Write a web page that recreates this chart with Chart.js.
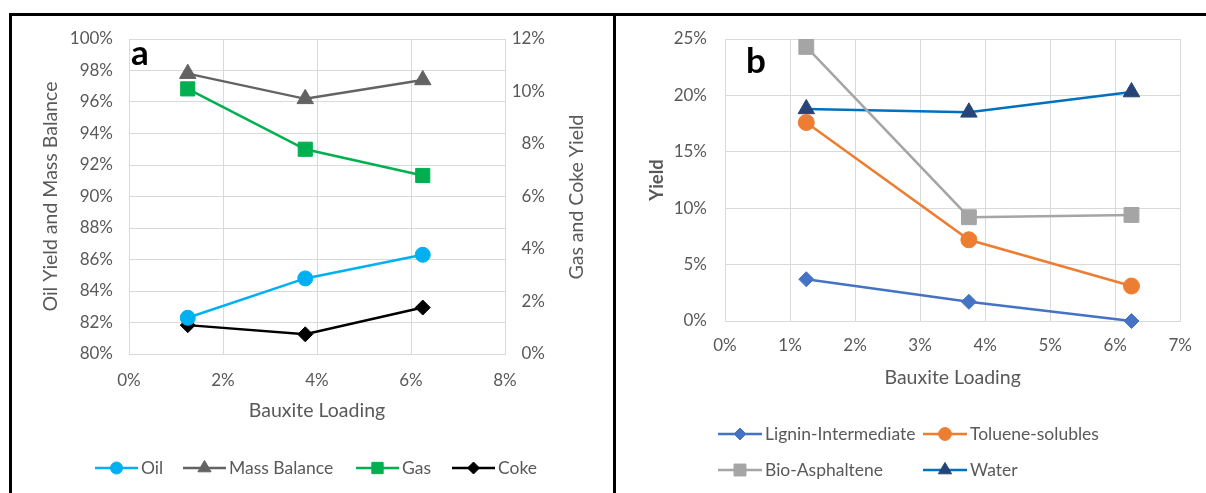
<!DOCTYPE html>
<html>
<head>
<meta charset="utf-8">
<script src="https://cdn.jsdelivr.net/npm/chart.js@4/dist/chart.umd.min.js"></script>
<style>
  html, body { margin: 0; padding: 0; background: #fff; }
  body { width: 1206px; height: 493px; position: relative; overflow: hidden; }
  .panel { position: absolute; top: 0; }
  .frame { position: absolute; background: #000; }
</style>
</head>
<body>
<div class="panel" style="left:0;width:613px;height:493px"><canvas id="chartA" width="613" height="493"></canvas></div>
<div class="panel" style="left:615px;width:591px;height:493px"><canvas id="chartB" width="591" height="493"></canvas></div>
<div class="frame" style="left:9px;top:13px;width:1197px;height:3px"></div>
<div class="frame" style="left:9px;top:13px;width:3px;height:480px"></div>
<div class="frame" style="left:613px;top:13px;width:3px;height:480px"></div>
<script>
// Bauxite loading (%) shared by both panels
const loading = [1.25, 3.75, 6.25];

// Panel a: oil yield and mass balance (left axis), gas and coke (right axis), all %
const oilYield = [82.3, 84.8, 86.3];
const massBalance = [97.8, 96.2, 97.4];
const gasYield = [10.1, 7.8, 6.8];
const cokeYield = [1.1, 0.75, 1.77];

// Panel b: product yields (%)
const ligninIntermediate = [3.7, 1.7, 0.0];
const tolueneSolubles = [17.6, 7.2, 3.1];
const bioAsphaltene = [24.3, 9.2, 9.4];
const water = [18.8, 18.5, 20.3];

Chart.defaults.font.family = 'Lato, "Open Sans", sans-serif';
Chart.defaults.color = '#595959';

const GRID = '#D9D9D9';
const TICK_SIZE = 17;
const TITLE_SIZE = 19.5;
const pct = v => v + '%';
const pts = arr => arr.map((y, i) => ({ x: loading[i], y: y }));

function series(label, values, line, marker, style, radius, axis) {
  return {
    label: label,
    data: pts(values),
    yAxisID: axis || 'y',
    borderColor: line,
    borderWidth: 2.5,
    pointStyle: style,
    pointRadius: radius,
    pointHoverRadius: radius,
    pointBackgroundColor: marker,
    pointBorderColor: marker,
    pointBorderWidth: 1,
    tension: 0,
    clip: false
  };
}

// legend drawn Excel style: short line with the marker in the middle
const lineLegend = {
  id: 'lineLegend',
  afterDraw(chart, args, opts) {
    const ctx = chart.ctx;
    ctx.save();
    ctx.font = '17.5px Lato, sans-serif';
    ctx.textBaseline = 'middle';
    chart.data.datasets.forEach((ds, i) => {
      const [x, y] = opts.spots[i];
      ctx.strokeStyle = ds.borderColor;
      ctx.lineWidth = ds.borderWidth;
      ctx.beginPath();
      ctx.moveTo(x, y);
      ctx.lineTo(x + opts.lineLength, y);
      ctx.stroke();
      ctx.fillStyle = ds.pointBackgroundColor;
      ctx.strokeStyle = ds.pointBorderColor;
      ctx.lineWidth = 1;
      Chart.helpers.drawPoint(ctx, { pointStyle: ds.pointStyle, radius: ds.pointRadius * 0.8, rotation: 0, borderWidth: 1 }, x + opts.lineLength / 2, y);
      ctx.fillStyle = '#595959';
      ctx.fillText(ds.label, x + opts.lineLength + 3, y);
    });
    ctx.restore();
  }
};

// panel letter and any extra rotated axis title
const extraText = {
  id: 'extraText',
  afterDraw(chart, args, opts) {
    const ctx = chart.ctx;
    ctx.save();
    ctx.fillStyle = '#000';
    ctx.font = 'bold 35px Lato, sans-serif';
    ctx.textBaseline = 'alphabetic';
    ctx.fillText(opts.letter[0], opts.letter[1], opts.letter[2]);
    if (opts.sideTitle) {
      const [text, x, y] = opts.sideTitle;
      ctx.translate(x, y);
      ctx.rotate(-Math.PI / 2);
      ctx.font = TITLE_SIZE + 'px Lato, sans-serif';
      ctx.fillStyle = '#595959';
      ctx.textAlign = 'center';
      ctx.textBaseline = 'middle';
      ctx.fillText(text, 0, 0);
    }
    ctx.restore();
  }
};

const chartA = new Chart(document.getElementById('chartA'), {
  type: 'line',
  data: {
    datasets: [
      series('Oil', oilYield, '#00B0F0', '#00B0F0', 'circle', 7.5),
      series('Mass Balance', massBalance, '#636363', '#636363', 'triangle', 9.5),
      series('Gas', gasYield, '#00B050', '#00B050', 'rect', 10, 'y1'),
      series('Coke', cokeYield, '#000000', '#000000', 'rectRot', 7.5, 'y1')
    ]
  },
  options: {
    responsive: false,
    animation: false,
    layout: { padding: { left: 0, top: 39, right: 68, bottom: 64 } },
    plugins: {
      legend: { display: false },
      tooltip: { enabled: false },
      lineLegend: { lineLength: 43, spots: [[95, 468], [183, 468], [356, 468], [452, 468]] },
      extraText: { letter: ['a', 131, 65], sideTitle: ['Gas and Coke Yield', 577, 197] }
    },
    scales: {
      x: {
        type: 'linear', min: 0, max: 8,
        ticks: { stepSize: 2, callback: pct, padding: 16, font: { size: TICK_SIZE } },
        grid: { color: GRID, drawTicks: false },
        border: { color: GRID },
        title: { display: true, text: 'Bauxite Loading', font: { size: TITLE_SIZE }, padding: { top: 0, bottom: 7 } },
        afterFit: s => { s.height = 75; }
      },
      y: {
        position: 'left', min: 80, max: 100,
        ticks: { stepSize: 2, callback: pct, padding: 16, font: { size: TICK_SIZE } },
        grid: { color: GRID, drawTicks: false },
        border: { color: GRID },
        title: { display: true, text: 'Oil Yield and Mass Balance', font: { size: TITLE_SIZE }, padding: { top: 39, bottom: 0 } },
        afterFit: s => { s.width = 129; }
      },
      y1: {
        position: 'right', min: 0, max: 12,
        ticks: { stepSize: 2, callback: pct, padding: 7, crossAlign: 'far', font: { size: TICK_SIZE } },
        grid: { drawOnChartArea: false, drawTicks: false },
        border: { color: GRID },
        afterFit: s => { s.width = 40; }
      }
    }
  },
  plugins: [lineLegend, extraText]
});

const chartB = new Chart(document.getElementById('chartB'), {
  type: 'line',
  data: {
    datasets: [
      series('Lignin-Intermediate', ligninIntermediate, '#4472C4', '#4472C4', 'rectRot', 7.5),
      series('Toluene-solubles', tolueneSolubles, '#ED7D31', '#ED7D31', 'circle', 8),
      series('Bio-Asphaltene', bioAsphaltene, '#A5A5A5', '#A5A5A5', 'rect', 10.5),
      series('Water', water, '#0070C0', '#264478', 'triangle', 9.5)
    ]
  },
  options: {
    responsive: false,
    animation: false,
    layout: { padding: { left: 0, top: 39, right: 23, bottom: 102 } },
    plugins: {
      legend: { display: false },
      tooltip: { enabled: false },
      lineLegend: { lineLength: 44, spots: [[103, 434], [308, 434], [103, 470], [308, 470]] },
      extraText: { letter: ['b', 131, 73] }
    },
    scales: {
      x: {
        type: 'linear', min: 0, max: 7,
        ticks: { stepSize: 1, callback: pct, padding: 14, font: { size: TICK_SIZE } },
        grid: { color: GRID, drawTicks: false },
        border: { color: GRID },
        title: { display: true, text: 'Bauxite Loading', font: { size: TITLE_SIZE }, padding: { top: 0, bottom: 2 } },
        afterFit: s => { s.height = 70; }
      },
      y: {
        position: 'left', min: 0, max: 25,
        ticks: { stepSize: 5, callback: pct, padding: 18, font: { size: TICK_SIZE } },
        grid: { color: GRID, drawTicks: false },
        border: { color: GRID },
        title: { display: true, text: 'Yield', font: { size: 18.5, weight: 'bold' }, padding: { top: 31, bottom: 0 } },
        afterFit: s => { s.width = 110; }
      }
    }
  },
  plugins: [lineLegend, extraText]
});
</script>
</body>
</html>
